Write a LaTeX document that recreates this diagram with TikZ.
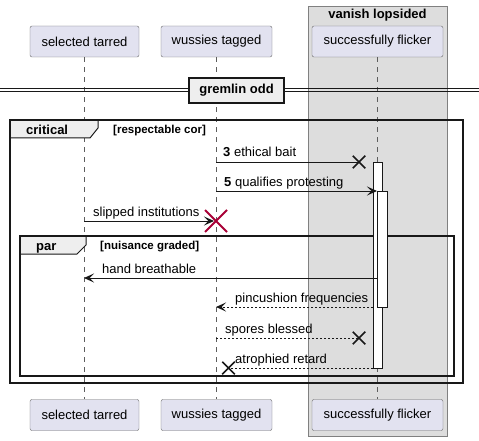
\documentclass[tikz,border=0pt]{standalone}
\usepackage{fontspec}
\setmainfont{Liberation Sans}
\usetikzlibrary{arrows.meta,shapes.misc}
\definecolor{partfill}{HTML}{E2E2F0}
\definecolor{boxfill}{HTML}{DDDDDD}
\definecolor{tabfill}{HTML}{EEEEEE}
\definecolor{linec}{HTML}{181818}
\definecolor{redx}{HTML}{A80036}
\begin{document}
\begin{tikzpicture}[x=1pt,y=-1pt,
  part/.style={draw=linec!65, fill=partfill, rounded corners=2pt, minimum height=31pt, inner sep=0pt, font=\fontsize{13}{15}\selectfont},
  life/.style={draw=linec!70, line width=0.5pt, dash pattern=on 5pt off 5pt},
  msg/.style={draw=linec, line width=1pt, -{Stealth[length=10pt,width=9pt,inset=4.5pt]}},
  msgline/.style={draw=linec, line width=1pt},
  ret/.style={dash pattern=on 2pt off 2pt},
  lbl/.style={anchor=base west, inner sep=0pt, font=\fontsize{13}{15}\selectfont},
  guard/.style={anchor=base west, inner sep=0pt, font=\fontsize{11.5}{13}\selectfont\bfseries},
  ftitle/.style={anchor=base west, inner sep=0pt, font=\fontsize{13}{15}\selectfont\bfseries},
  xmark/.style={cross out, draw=linec, line width=1.5pt, minimum size=11pt, inner sep=0pt},
  actbar/.style={draw=linec, fill=white, line width=0.8pt},
  framebox/.style={draw=linec, line width=1.5pt},
  tab/.style={draw=linec, fill=tabfill, line width=1pt}
]
\useasboundingbox (0,0) rectangle (479,441);
% group box
\draw[fill=boxfill, draw=linec!55, line width=0.8pt] (308,6) rectangle (447,436);
\node[font=\fontsize{13}{15}\selectfont\bfseries, anchor=base] (grp) at (377.5,19) {vanish lopsided};
% participants
\node[part, minimum width=109pt] (pa) at (84.5,41.5) {selected tarred};
\node[part, minimum width=111pt] (pb) at (216.5,41.5) {wussies tagged};
\node[part, minimum width=131pt] (pc) at (377.5,41.5) {successfully flicker};
\node[part, minimum width=109pt] (qa) at (84.5,415) {selected tarred};
\node[part, minimum width=111pt] (qb) at (216.5,415) {wussies tagged};
\node[part, minimum width=131pt] (qc) at (377.5,415) {successfully flicker};
\draw[life] (pa.south) -- (qa.north);
\draw[life] (pb.south) -- (qb.north);
\draw[life] ([xshift=-0.5pt]pc.south) -- ([xshift=-0.5pt]qc.north);
% divider
\draw[draw=linec, line width=0.8pt] (0,88.5) -- (479,88.5) (0,91.5) -- (479,91.5);
\node[draw=linec, fill=tabfill, line width=1.5pt, minimum width=95pt, minimum height=25pt, inner sep=0pt, font=\fontsize{13}{15}\selectfont\bfseries] (div) at (236.5,90.5) {gremlin odd};
% critical frame
\draw[tab] (10,120) -- (98,120) -- (98,128) -- (90,138) -- (10,138) -- cycle;
\draw[framebox] (10,120) rectangle (463,383);
\node[ftitle] (crit) at (26,135) {critical};
\node[guard] (critg) at (113,134) {[respectable cor]};
% par frame
\draw[tab] (20,236) -- (86,236) -- (86,245) -- (77,254) -- (20,254) -- cycle;
\draw[framebox] (20,236) rectangle (454,376);
\node[ftitle] (parl) at (36,250) {par};
\node[guard] (parg) at (100,249) {[nuisance graded]};
% activation bars
\draw[actbar] (373,162) rectangle (382,368);
\draw[actbar] (377,191) rectangle (387,307);
% coordinates
\coordinate (m1s) at (216,162);
\coordinate (m2s) at (216,191);
\coordinate (m2e) at (377,191);
\coordinate (m3s) at (84,221);
\coordinate (m4s) at (377,278);
\coordinate (m4e) at (84,278);
\coordinate (m5s) at (373,307);
\coordinate (m5e) at (216,307);
\coordinate (m6s) at (216,338);
\coordinate (m7s) at (373,368);
% crosses
\node[xmark] (x1) at (359,162) {};
\node[xmark] (x6) at (359,338) {};
\node[xmark] (x7) at (228.5,368) {};
\node[cross out, draw=redx, line width=2pt, minimum size=20pt, inner sep=0pt] (x3) at (216,221) {};
% messages
\draw[msgline] (m1s) -- (x1.center);
\node[lbl] (t1) at (223,157) {\textbf{3} ethical bait};
\draw[msg] (m2s) -- (m2e);
\node[lbl] (t2) at (224,186) {\textbf{5} qualifies protesting};
\draw[msg] (m3s) -- ([xshift=-2pt]x3.center);
\node[lbl] (t3) at (93,216.5) {slipped institutions};
\draw[msg] (m4s) -- (m4e);
\node[lbl] (t4) at (102,273) {hand breathable};
\draw[msg, ret] (m5s) -- (m5e);
\node[lbl] (t5) at (235,302.5) {pincushion frequencies};
\draw[msgline, ret] (m6s) -- (x6.center);
\node[lbl] (t6) at (225,333) {spores blessed};
\draw[msgline, ret] (m7s) -- (x7.center);
\node[lbl] (t7) at (235,363.5) {atrophied retard};
\end{tikzpicture}
\end{document}
